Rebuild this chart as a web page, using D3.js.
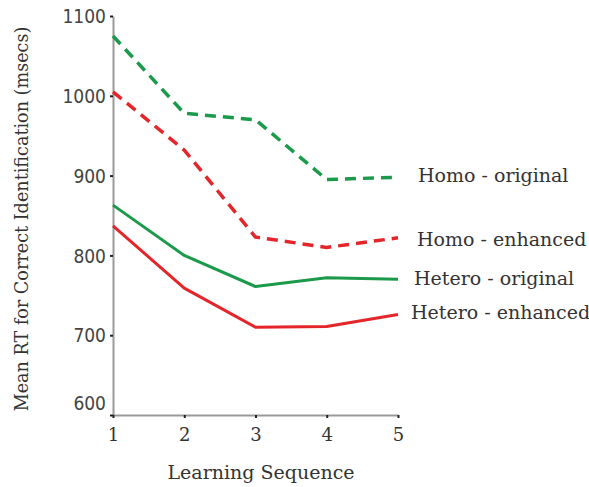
<!DOCTYPE html>
<html><head><meta charset="utf-8">
<script src="https://cdn.jsdelivr.net/npm/d3@7"></script>
<style>body{margin:0;background:#fff}</style>
</head><body>
<svg id="c" width="589" height="487"></svg>
<script>
const sequence = [1, 2, 3, 4, 5];
const homoOriginal = [1075, 978, 970, 895, 898];
const homoEnhanced = [1005, 932, 823, 810, 822];
const heteroOriginal = [863, 800, 761, 772, 770];
const heteroEnhanced = [837, 759, 710, 711, 726];
const seriesNames = ["Homo - original", "Homo - enhanced", "Hetero - original", "Hetero - enhanced"];
const yTicks = [600, 700, 800, 900, 1000, 1100];

const green = "#1b9a4b", red = "#e4262b";
const series = [
  {name: seriesNames[0], values: homoOriginal, color: green, dash: "11,7", lx: 418, ly: 175},
  {name: seriesNames[1], values: homoEnhanced, color: red, dash: "11,7", lx: 417, ly: 239},
  {name: seriesNames[2], values: heteroOriginal, color: green, dash: null, lx: 414, ly: 278},
  {name: seriesNames[3], values: heteroEnhanced, color: red, dash: null, lx: 411, ly: 312}
];

const svg = d3.select("#c");
const x = d3.scaleLinear().domain([1, 5]).range([113, 398]);
const y = d3.scaleLinear().domain([600, 1100]).range([415, 16]);

const yAxis = svg.append("g").attr("transform", "translate(113,0)")
  .call(d3.axisLeft(y).tickValues(yTicks).tickFormat(d3.format("d")).tickSize(3).tickSizeOuter(0).tickPadding(4));
const xAxis = svg.append("g").attr("transform", "translate(0,415)")
  .call(d3.axisBottom(x).tickValues(sequence).tickFormat(d3.format("d")).tickSize(3).tickSizeOuter(0).tickPadding(10));
[yAxis, xAxis].forEach(a => {
  a.select(".domain").attr("stroke", "#999").attr("stroke-width", 2);
  a.selectAll(".tick line").attr("stroke", "#222").attr("stroke-width", 2);
});
yAxis.selectAll(".tick text").attr("font-family", "DejaVu Sans Condensed, DejaVu Sans").attr("font-stretch", "condensed")
  .attr("font-size", 19).attr("fill", "#444")
  .attr("dy", d => d === 600 ? "-0.3em" : "0.35em");
xAxis.selectAll(".tick text").attr("font-family", "DejaVu Serif").attr("font-size", 18).attr("fill", "#333");

const line = d3.line().x((d, i) => x(sequence[i])).y(d => y(d));
series.forEach(s => {
  svg.append("path").datum(s.values)
    .attr("d", line).attr("fill", "none")
    .attr("stroke", s.color).attr("stroke-width", s.dash ? 3.5 : 3)
    .attr("stroke-dasharray", s.dash)
    .attr("stroke-linejoin", "round");
});

series.forEach(s => {
  svg.append("text").attr("x", s.lx).attr("y", s.ly)
    .attr("dy", "0.35em")
    .attr("font-family", "DejaVu Serif").attr("font-size", 19).attr("fill", "#333")
    .text(s.name);
});

svg.append("text").attr("x", 261).attr("y", 479).attr("text-anchor", "middle")
  .attr("font-family", "DejaVu Serif").attr("font-size", 19).attr("fill", "#333")
  .text("Learning Sequence");
svg.append("text").attr("transform", "translate(28,219) rotate(-90)").attr("text-anchor", "middle")
  .attr("font-family", "DejaVu Serif").attr("font-size", 17.6).attr("fill", "#333")
  .text("Mean RT for Correct Identification (msecs)");
</script>
</body></html>
